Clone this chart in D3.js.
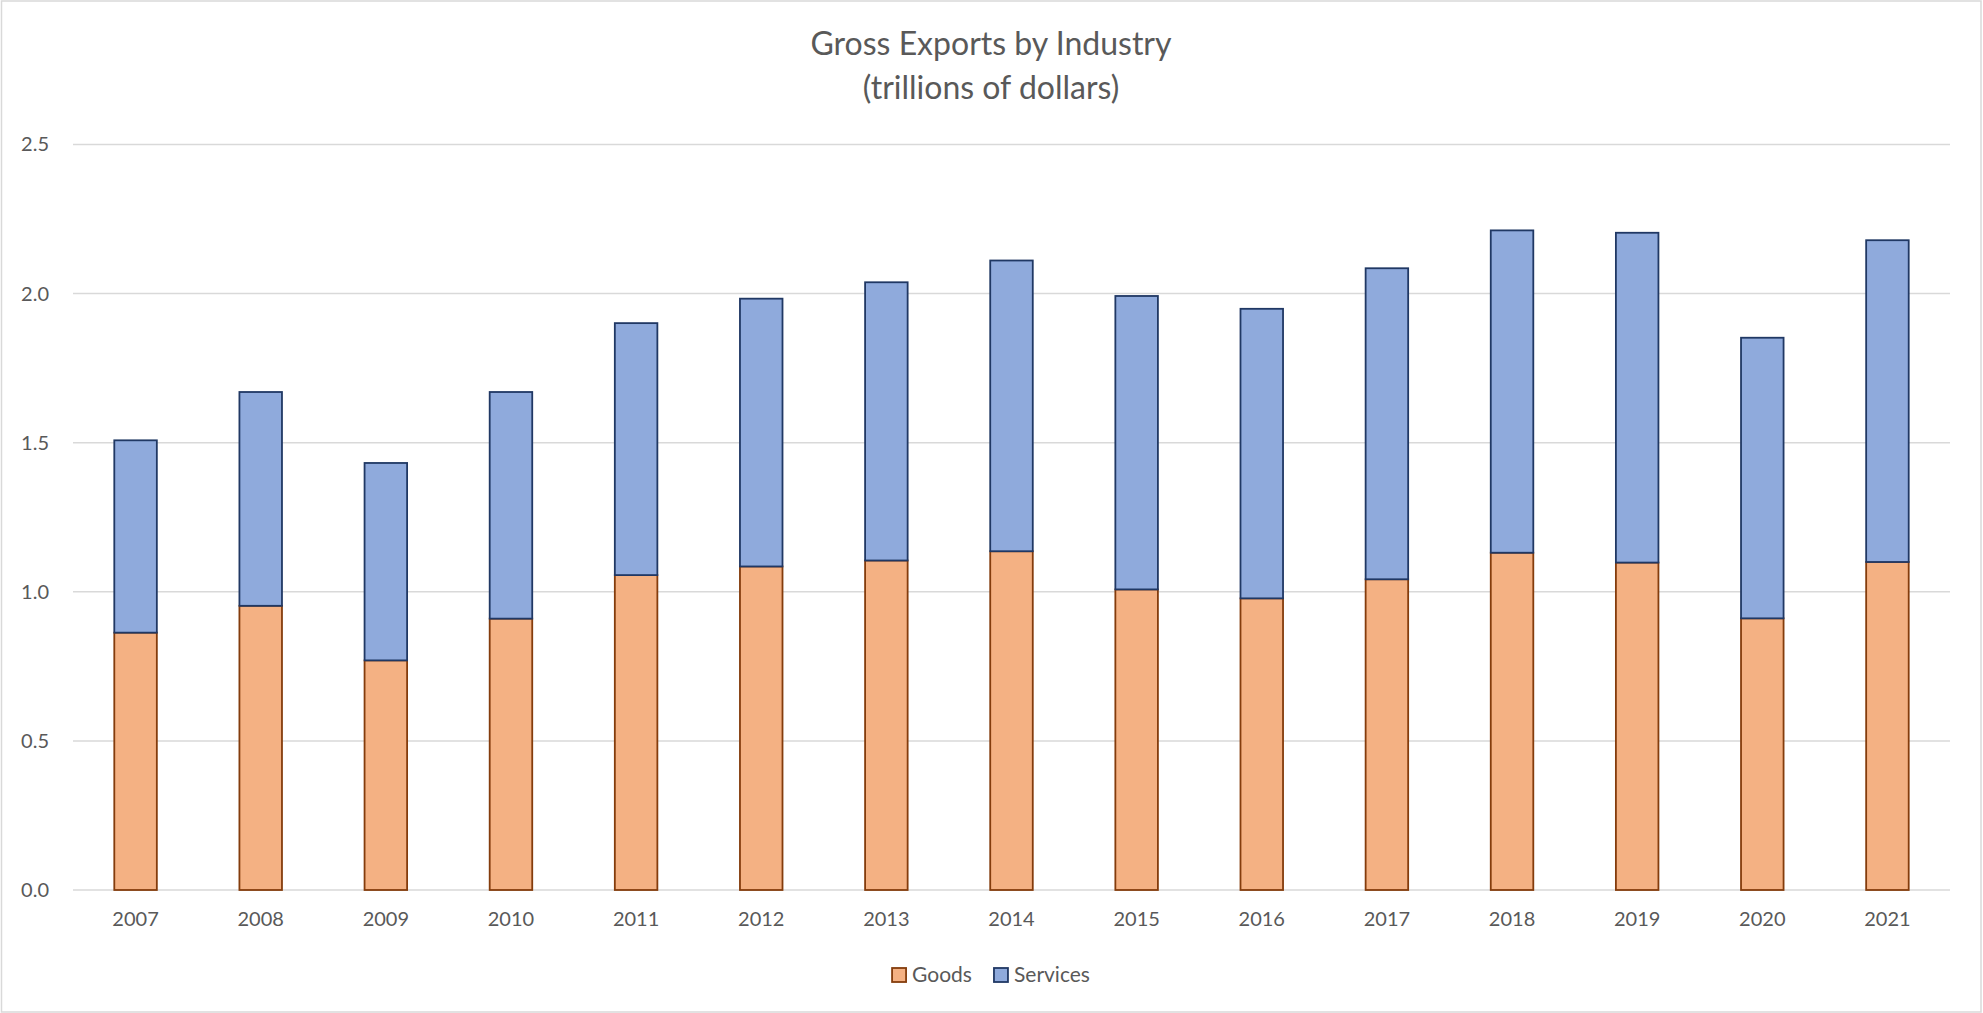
<!DOCTYPE html>
<html>
<head>
<meta charset="utf-8">
<script src="https://cdn.jsdelivr.net/npm/d3@7/dist/d3.min.js"></script>
<style>
  body { margin: 0; background: #fff; }
  text { font-family: Lato, "Open Sans", sans-serif; fill: #595959; }
</style>
</head>
<body>
<svg width="1983" height="1013"></svg>
<script>
// data (trillions of dollars)
const years = ['2007','2008','2009','2010','2011','2012','2013','2014','2015','2016','2017','2018','2019','2020','2021'];
const goods = [0.863, 0.953, 0.770, 0.910, 1.056, 1.085, 1.105, 1.136, 1.008, 0.978, 1.042, 1.131, 1.098, 0.911, 1.100];
const services = [0.645, 0.717, 0.662, 0.760, 0.845, 0.898, 0.933, 0.975, 0.984, 0.971, 1.043, 1.081, 1.106, 0.941, 1.079];
const yTicks = [0, 0.5, 1.0, 1.5, 2.0, 2.5];
const seriesNames = ['Goods', 'Services'];

const svg = d3.select('svg');
const width = +svg.attr('width');
const height = +svg.attr('height');

const margin = { top: 144.5, right: 33, bottom: 123, left: 73 };

const fills = { Goods: '#F4B183', Services: '#8FAADC' };
const strokes = { Goods: '#843C0C', Services: '#203864' };

// outer chart border
svg.append('rect')
    .attr('x', 1.5).attr('y', 1)
    .attr('width', width - 3.5).attr('height', height - 2)
    .attr('fill', 'none')
    .attr('stroke', '#D9D9D9')
    .attr('stroke-width', 1.5);

// title
const title = svg.append('text')
    .attr('text-anchor', 'middle')
    .style('font-size', '32px');
title.append('tspan').attr('x', 991).attr('y', 55).text('Gross Exports by Industry');
title.append('tspan').attr('x', 991).attr('y', 99).text('(trillions of dollars)');

const xScale = d3.scaleBand()
    .domain(years)
    .range([margin.left, width - margin.right])
    .paddingInner(0.66)
    .paddingOuter(0.33);

const yScale = d3.scaleLinear()
    .domain([0, 2.5])
    .range([height - margin.bottom, margin.top]);

// gridlines
svg.append('g')
    .selectAll('line').data(yTicks)
    .enter().append('line')
        .attr('x1', margin.left)
        .attr('x2', width - margin.right)
        .attr('y1', d => yScale(d))
        .attr('y2', d => yScale(d))
        .attr('stroke', '#D9D9D9')
        .attr('stroke-width', 1.5);

// y axis labels
const yAxis = svg.append('g')
    .attr('transform', `translate(${margin.left},0)`)
    .call(d3.axisLeft(yScale).tickValues(yTicks).tickFormat(d3.format('.1f')).tickSize(0).tickPadding(24));
yAxis.select('.domain').remove();
yAxis.selectAll('text')
    .attr('fill', '#595959')
    .style('font-size', '20px')
    .style('font-family', 'Lato, sans-serif');

// x axis labels
const xAxis = svg.append('g')
    .attr('transform', `translate(0,${yScale(0)})`)
    .call(d3.axisBottom(xScale).tickSize(0).tickPadding(22));
xAxis.select('.domain').remove();
xAxis.selectAll('text')
    .attr('fill', '#595959')
    .style('font-size', '20px')
    .style('font-family', 'Lato, sans-serif');

// stacked bars
const rows = years.map((y, i) => ({ year: y, Goods: goods[i], Services: services[i] }));
const stacked = d3.stack().keys(seriesNames)(rows);

svg.append('g')
    .selectAll('g').data(stacked)
    .enter().append('g')
        .attr('fill', d => fills[d.key])
        .attr('stroke', d => strokes[d.key])
        .attr('stroke-width', 1.8)
    .selectAll('rect').data(d => d)
    .enter().append('rect')
        .attr('x', d => xScale(d.data.year))
        .attr('y', d => yScale(d[1]))
        .attr('width', xScale.bandwidth())
        .attr('height', d => yScale(d[0]) - yScale(d[1]));

// legend, centred under the plot
const legend = svg.append('g');
const items = legend.selectAll('g').data(seriesNames)
    .enter().append('g');
items.append('rect')
    .attr('width', 14).attr('height', 14)
    .attr('y', -14)
    .attr('fill', d => fills[d])
    .attr('stroke', d => strokes[d])
    .attr('stroke-width', 1.8);
items.append('text')
    .attr('x', 20)
    .style('font-size', '21px')
    .text(d => d);

let offset = 0;
items.each(function() {
    d3.select(this).attr('transform', `translate(${offset},0)`);
    offset += this.getBBox().width + 22;
});
offset -= 22;
legend.attr('transform', `translate(${991 - offset / 2},982)`);
</script>
</body>
</html>
